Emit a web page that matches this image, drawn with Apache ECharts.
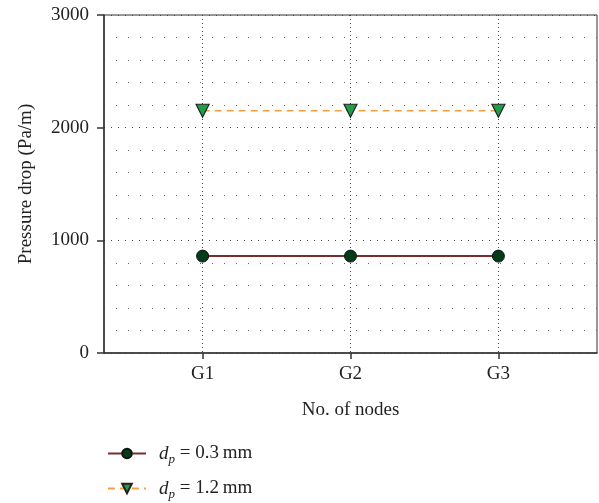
<!DOCTYPE html>
<html>
<head>
<meta charset="utf-8">
<script src="https://cdn.jsdelivr.net/npm/echarts@6/dist/echarts.min.js"></script>
<style>
  html, body { margin: 0; padding: 0; background: #fff; }
  #chart { width: 599px; height: 503px; }
</style>
</head>
<body>
<div id="chart"></div>
<script>
// node positions and labels
const nodeLabels = ['G1', 'G2', 'G3'];
const nodePos = [1, 2, 3];
// pressure drop (Pa/m) for each particle size
const dpSizes = ['0.3', '1.2'];
const small = [860, 860, 860];
const large = [2150, 2150, 2150];

const serif = 'Liberation Serif';
const fs = 19;

function pairs(vals) {
  return nodePos.map((x, i) => [x, vals[i]]);
}

const names = dpSizes.map(s => 'dp = ' + s + ' mm');

// one legend per row so the two entries stack
function legendRow(name, top) {
  return {
    orient: 'vertical',
    left: 102,
    top: top,
    itemWidth: 38,
    itemHeight: 12,
    data: [name],
    formatter: function (n) {
      const size = n.replace('dp = ', '').replace(' mm', '');
      return '{i|d}{s|p}{t| = ' + size + '\u2009mm}';
    },
    textStyle: {
      fontFamily: serif,
      fontSize: fs,
      color: '#222',
      rich: {
        i: { fontFamily: serif, fontSize: fs, fontStyle: 'italic', color: '#222', padding: [0, 0, 0, 8] },
        s: { fontFamily: serif, fontSize: 13, fontStyle: 'italic', color: '#222', padding: [12, 0, 0, 0] },
        t: { fontFamily: serif, fontSize: fs, color: '#222' }
      }
    }
  };
}

const chart = echarts.init(document.getElementById('chart'));

const option = {
  backgroundColor: '#fff',
  animation: false,
  textStyle: { fontFamily: serif },
  grid: {
    left: 104,
    right: 2,
    top: 15,
    bottom: 150,
    show: true,
    borderColor: '#333',
    borderWidth: 1
  },
  legend: [legendRow(names[0], 439), legendRow(names[1], 474)],
  xAxis: {
    type: 'value',
    min: 1 / 3,
    max: 11 / 3,
    name: 'No. of nodes',
    nameLocation: 'middle',
    nameGap: 48,
    nameTextStyle: { fontFamily: serif, fontSize: fs, color: '#222' },
    axisLine: { lineStyle: { color: '#333', width: 1.5 } },
    axisTick: {
      show: true,
      customValues: nodePos,
      length: 6,
      lineStyle: { color: '#333', width: 1.5 }
    },
    axisLabel: {
      customValues: nodePos,
      margin: 12,
      fontFamily: serif,
      fontSize: fs,
      color: '#222',
      formatter: function (v) {
        const i = nodePos.indexOf(Math.round(v));
        return i >= 0 ? nodeLabels[i] : '';
      }
    },
    splitLine: {
      show: true,
      lineStyle: { color: '#444', width: 1, type: [1, 3] }
    }
  },
  yAxis: {
    type: 'value',
    min: 0,
    max: 3000,
    interval: 1000,
    name: 'Pressure drop (Pa/m)',
    nameLocation: 'middle',
    nameGap: 68,
    nameTextStyle: { fontFamily: serif, fontSize: fs, color: '#222' },
    axisLine: { show: true, lineStyle: { color: '#333', width: 1.5 } },
    axisTick: { show: true, inside: false, length: 7, lineStyle: { color: '#333', width: 1.5 } },
    axisLabel: {
      margin: 15,
      fontFamily: serif,
      fontSize: fs,
      color: '#222',
      formatter: function (v) { return String(v); }
    },
    splitLine: {
      show: true,
      lineStyle: { color: '#444', width: 1, type: [1, 6] }
    },
    minorTick: { show: false, splitNumber: 5 },
    minorSplitLine: {
      show: true,
      lineStyle: { color: '#666', width: 1, type: [1, 11] }
    }
  },
  series: [
    {
      name: names[0],
      type: 'line',
      data: pairs(small),
      symbol: 'circle',
      symbolSize: 12,
      lineStyle: { color: '#7a2e2e', width: 2 },
      itemStyle: { color: '#033d17', borderColor: '#111', borderWidth: 1 },
      z: 3
    },
    {
      name: names[1],
      type: 'line',
      data: pairs(large),
      symbol: 'triangle',
      symbolRotate: 180,
      symbolSize: 13,
      lineStyle: { color: '#f5a040', width: 1.6, type: [7, 5] },
      itemStyle: { color: '#1f9e48', borderColor: '#222', borderWidth: 1.2 },
      z: 3
    }
  ]
};

chart.setOption(option);
</script>
</body>
</html>
